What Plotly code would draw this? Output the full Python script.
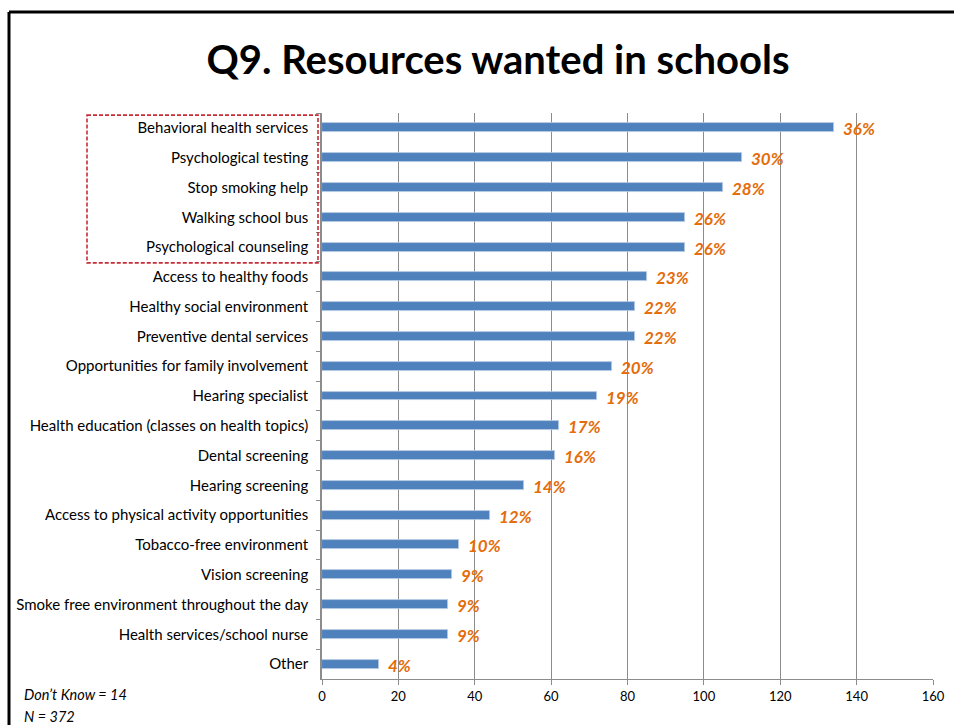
import plotly.graph_objects as go

# Survey question: resources respondents would like to see in schools
categories = [
    "Behavioral health services",
    "Psychological testing",
    "Stop smoking help",
    "Walking school bus",
    "Psychological counseling",
    "Access to healthy foods",
    "Healthy social environment",
    "Preventive dental services",
    "Opportunities for family involvement",
    "Hearing specialist",
    "Health education (classes on health topics)",
    "Dental screening",
    "Hearing screening",
    "Access to physical activity opportunities",
    "Tobacco-free environment",
    "Vision screening",
    "Smoke free environment throughout the day",
    "Health services/school nurse",
    "Other",
]
counts = [134, 110, 105, 95, 95, 85, 82, 82, 76, 72, 62, 61, 53, 44, 36, 34, 33, 33, 15]
respondents = 372
dont_know = 14
x_ticks = [0, 20, 40, 60, 80, 100, 120, 140, 160]

FONT = "Lato"
BAR_BLUE = "#4F81BD"
LABEL_ORANGE = "#E46C0A"
GRID = "#8C8C8C"

# Plot-area geometry in pixels (used to place the frame in paper units)
FIG_W, FIG_H = 954, 725
M_L, M_R, M_T, M_B = 322, 21, 113, 46
PLOT_W = FIG_W - M_L - M_R
PLOT_H = FIG_H - M_T - M_B


def px_x(px):
    return (px - M_L) / PLOT_W


def px_y(py):
    return (FIG_H - M_B - py) / PLOT_H


fig = go.Figure()
fig.add_trace(go.Bar(
    x=counts,
    y=categories,
    orientation="h",
    width=0.3,
    marker=dict(color=BAR_BLUE, line=dict(color="#B9CDE5", width=0.8)),
    hoverinfo="x+y",
))

# Percentage labels to the right of each bar
for cat, c in zip(categories, counts):
    pct = round(c / respondents * 100)
    fig.add_annotation(
        x=c, y=cat, xref="x", yref="y",
        text=f"<b><i>{pct}%</i></b>",
        showarrow=False, xanchor="left", yanchor="middle",
        xshift=7, yshift=-1,
        font=dict(family=FONT, size=17, color=LABEL_ORANGE),
    )

# Footnotes
fig.add_annotation(
    x=px_x(22), y=px_y(694), xref="paper", yref="paper",
    text="<i>Don’t Know = %d</i>" % dont_know,
    showarrow=False, xanchor="left", yanchor="middle",
    font=dict(family=FONT, size=14.5, color="#000000"),
)
fig.add_annotation(
    x=px_x(22), y=px_y(716), xref="paper", yref="paper",
    text="<i>N = %d</i>" % respondents,
    showarrow=False, xanchor="left", yanchor="middle",
    font=dict(family=FONT, size=14.5, color="#000000"),
)

# Slide frame (left and top edges)
fig.add_shape(type="line", xref="paper", yref="paper",
              x0=px_x(9), x1=px_x(9), y0=px_y(FIG_H), y1=px_y(12),
              line=dict(color="#000000", width=3))
fig.add_shape(type="line", xref="paper", yref="paper",
              x0=px_x(9), x1=px_x(FIG_W), y0=px_y(12), y1=px_y(12),
              line=dict(color="#000000", width=3))

# Dashed highlight around the top five items
fig.add_shape(type="rect", xref="paper", yref="y",
              x0=px_x(87), x1=px_x(318), y0=-0.43, y1=4.53,
              line=dict(color="#C62D36", width=1.6, dash="4px,2px"),
              fillcolor="rgba(0,0,0,0)", layer="above")

fig.update_layout(
    width=FIG_W, height=FIG_H,
    margin=dict(l=M_L, r=M_R, t=M_T, b=M_B, autoexpand=False),
    paper_bgcolor="white", plot_bgcolor="white",
    showlegend=False,
    bargap=0,
    title=dict(
        text="<b>Q9. Resources wanted in schools</b>",
        x=0.522, xanchor="center", y=0.917, yanchor="middle",
        font=dict(family=FONT, size=40, color="#000000"),
    ),
    font=dict(family=FONT, size=13, color="#000000"),
    xaxis=dict(
        range=[0, 160], tickvals=x_ticks, ticktext=[str(v) for v in x_ticks],
        showgrid=True, gridcolor=GRID, gridwidth=1,
        showline=True, linecolor=GRID, linewidth=1,
        ticks="outside", ticklen=5, tickcolor=GRID,
        zeroline=False, fixedrange=True, automargin=False,
        tickfont=dict(family=FONT, size=13, color="#000000"),
    ),
    yaxis=dict(
        type="category", categoryorder="array", categoryarray=categories,
        autorange="reversed",
        showline=True, linecolor=GRID, linewidth=1.5,
        ticks="outside", ticklen=4, tickcolor=GRID, tickson="boundaries",
        showgrid=False, fixedrange=True, automargin=False,
        tickfont=dict(family=FONT, size=15, color="#000000"),
        ticklabelstandoff=9,
    ),
)

# Keep the page exactly the size of the figure (no scrollbars)
fig.write_html(
    "out.html",
    config={"displayModeBar": False},
    post_script="document.body.style.margin='0';"
                "document.body.style.overflow='hidden';"
                "document.documentElement.style.overflow='hidden';",
)
